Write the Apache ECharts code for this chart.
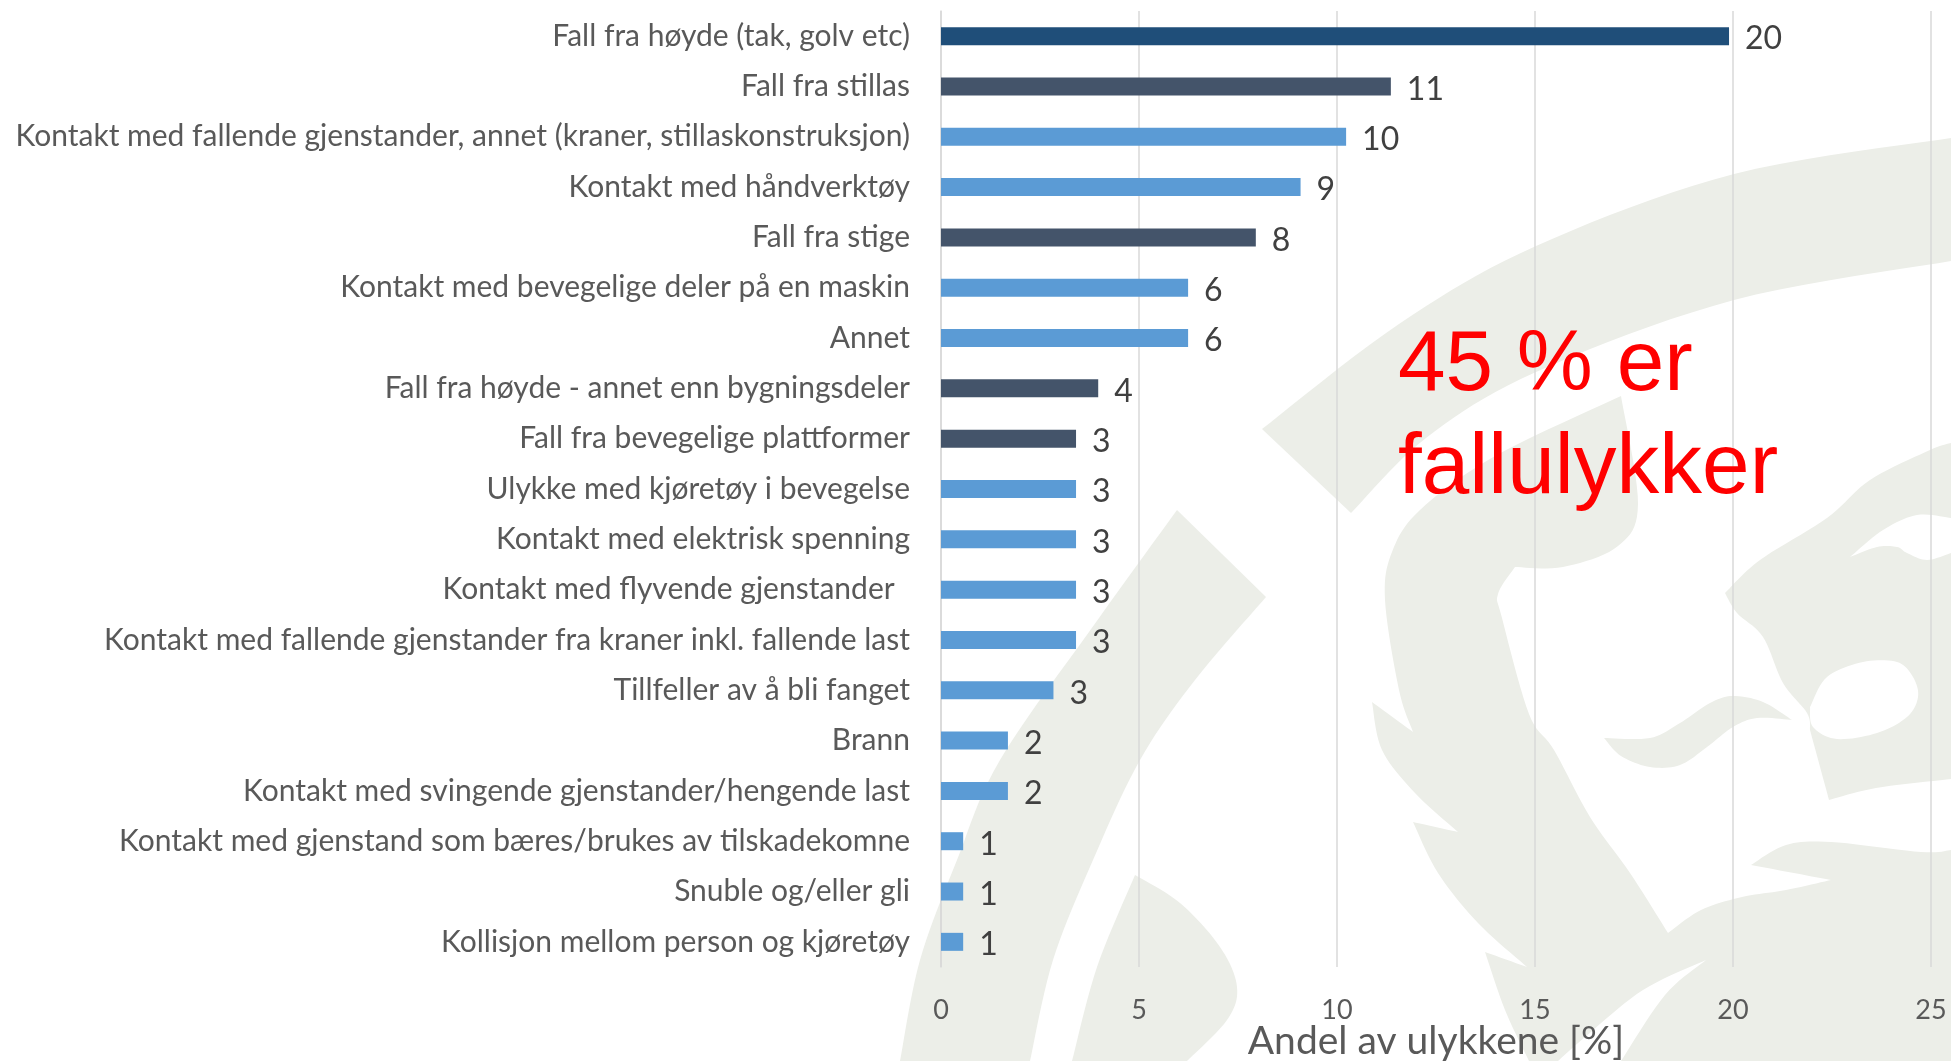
<!DOCTYPE html>
<html><head><meta charset="utf-8">
<style>html,body{margin:0;padding:0;background:#fff}#c{width:1951px;height:1061px}</style>
<script src="https://cdn.jsdelivr.net/npm/echarts@6/dist/echarts.min.js"></script>
</head><body><div id="c"></div>
<script>
const categories = ["Fall fra høyde (tak, golv etc)","Fall fra stillas","Kontakt med fallende gjenstander, annet (kraner, stillaskonstruksjon)","Kontakt med håndverktøy","Fall fra stige","Kontakt med bevegelige deler på en maskin","Annet","Fall fra høyde - annet enn bygningsdeler","Fall fra bevegelige plattformer","Ulykke med kjøretøy i bevegelse","Kontakt med elektrisk spenning","Kontakt med flyvende gjenstander  ","Kontakt med fallende gjenstander fra kraner inkl. fallende last","Tillfeller av å bli fanget","Brann","Kontakt med svingende gjenstander/hengende last","Kontakt med gjenstand som bæres/brukes av tilskadekomne","Snuble og/eller gli","Kollisjon mellom person og kjøretøy"];
const values = [19.9,11.36,10.23,9.08,7.95,6.24,6.24,3.97,3.41,3.41,3.41,3.41,3.41,2.84,1.69,1.69,0.56,0.56,0.56];
const colorGroups = ["top","fall","other","other","fall","other","other","fall","fall","other","other","other","other","other","other","other","other","other","other"];
const palette = {top:"#1F4E79",fall:"#44546A",other:"#5B9BD5"};
const xTicks = [0,5,10,15,20,25];
const axisTitle = "Andel av ulykkene [%]";
const note = "45 % er\nfallulykker";

// Decorative background emblem: each outline is a list of smooth runs, joined at sharp corners.
function spline(run){
  const out=[];
  for(let i=0;i<run.length-1;i++){
    const p0=run[Math.max(i-1,0)],p1=run[i],p2=run[i+1],p3=run[Math.min(i+2,run.length-1)];
    for(let k=0;k<10;k++){
      const t=k/10,t2=t*t,t3=t2*t;
      out.push([0,1].map(d=>0.5*(2*p1[d]+(p2[d]-p0[d])*t+(2*p0[d]-5*p1[d]+4*p2[d]-p3[d])*t2+(3*p1[d]-p0[d]-3*p2[d]+p3[d])*t3)));
    }
  }
  out.push(run[run.length-1]);
  return out;
}
const outline = runs => runs.flatMap(spline);
const emblemPale = [
  [[[1262,429],[1399,324],[1536,246],[1734,174],[1951,138]],[[1951,138],[1951,261]],[[1951,261],[1734,300],[1536,372],[1426,438],[1351,513]]],
  [[[1177,510],[1099,618],[1000,760],[957,860],[920,960],[900,1061]],[[900,1061],[1030,1061]],[[1030,1061],[1053,960],[1093,860],[1140,760],[1195,680],[1266,597]]],
  [[[1135,875],[1180,903],[1220,947],[1237,987],[1227,1020],[1187,1061]],[[1187,1061],[1072,1061]],[[1072,1061],[1097,967],[1135,875]]],
  [[[1621,396],[1495,456],[1420,510],[1392,552],[1385,600],[1399,690],[1413,732]],[[1413,732],[1372,702]],
   [[1372,702],[1382,750],[1415,793],[1458,832]],[[1458,832],[1413,822]],[[1413,822],[1438,873],[1478,923],[1527,967]],[[1527,967],[1485,952]],
   [[1485,952],[1505,1010],[1529,1061]],[[1529,1061],[1558,1061]],[[1558,1061],[1585,1037],[1643,990],[1706,960]],[[1706,960],[1665,995],[1621,1061]],
   [[1621,1061],[1951,1061],[1951,850]],[[1951,850],[1921,852],[1831,842],[1786,845],[1751,865]],[[1751,865],[1831,880]],[[1831,880],[1786,890],[1742,897],[1701,910],[1668,933]],
   [[1668,933],[1630,873],[1590,817],[1554,750],[1529,714],[1502,618],[1498,594],[1515,567]],[[1515,567],[1563,567],[1618,546],[1638,504],[1621,396]]],
  [[[1725,593],[1760,560],[1827,518],[1870,480],[1930,450],[1951,443]],[[1951,443],[1951,779]],[[1951,779],[1876,788],[1829,800]],[[1829,800],[1810,730]],[[1810,730],[1807,713],[1783,683],[1763,637],[1737,613],[1725,593]]],
  [[[1604,738],[1650,738],[1680,723],[1710,703],[1733,696],[1763,702],[1792,720]],[[1792,720],[1757,718],[1733,727],[1707,747],[1680,765],[1650,767],[1621,756],[1604,738]]]
];
const emblemWhite = [
  [[[1850,557],[1883,530],[1917,515],[1951,518]],[[1951,518],[1951,553]],[[1951,553],[1927,560],[1907,553],[1897,547],[1877,547],[1850,557]]],
  [[[1810,707],[1827,677],[1863,662],[1897,662],[1913,677],[1918,697],[1907,717],[1877,733],[1837,739],[1813,727],[1810,707]]]
];
const emblem = (list,fill,z) => list.map(runs=>({type:'polygon',z,silent:true,shape:{points:outline(runs)},style:{fill}}));

const chart = echarts.init(document.getElementById('c'),null,{renderer:'canvas'});
chart.setOption({
  animation:false,
  backgroundColor:'#fff',
  grid:{left:941,top:11,width:990,height:956,containLabel:false,outerBoundsMode:'none'},
  xAxis:{type:'value',min:xTicks[0],max:xTicks[xTicks.length-1],interval:5,
    name:axisTitle,nameLocation:'middle',nameGap:74,nameMoveOverlap:false,
    nameTextStyle:{fontFamily:'Lato',fontSize:39,color:'#595959',verticalAlign:'middle'},
    axisLine:{show:false},axisTick:{show:false},
    axisLabel:{fontFamily:'Lato',fontSize:27,color:'#595959',margin:30},
    splitLine:{show:true,lineStyle:{color:'#D9D9D9',width:1.5}}},
  yAxis:{type:'category',inverse:true,data:categories,
    axisLine:{show:true,lineStyle:{color:'#D9D9D9',width:1.5}},axisTick:{show:false},
    axisLabel:{fontFamily:'Lato',fontSize:30,color:'#595959',margin:31,interval:0}},
  series:[{type:'bar',barWidth:18,
    data:values.map((v,i)=>({value:v,itemStyle:{color:palette[colorGroups[i]]}})),
    label:{show:true,position:'right',distance:16,offset:[0,3],fontFamily:'Lato',fontSize:32,color:'#404040',
      formatter:p=>Math.round(p.value)}}],
  graphic:[
    ...emblem(emblemPale,'#ECEEE8',-10),
    ...emblem(emblemWhite,'#FFFFFF',-9),
    {type:'text',left:1398,top:315,z:10,style:{text:note,fontFamily:'Liberation Sans',fontSize:85.5,lineHeight:103,fill:'#FF0000'}}
  ]
});
</script></body></html>
